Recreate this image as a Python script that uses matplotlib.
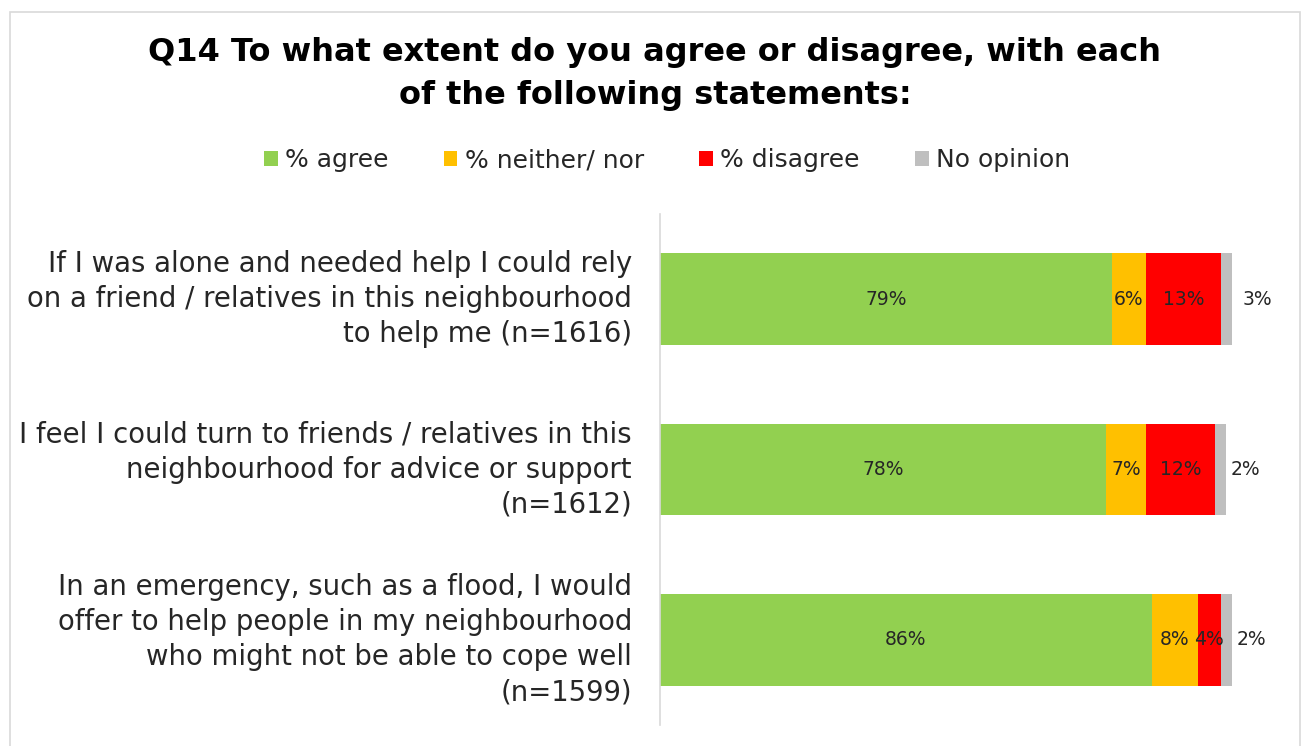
import matplotlib
matplotlib.use("Agg")
import matplotlib.pyplot as plt
from matplotlib.patches import Rectangle

plt.rcParams['font.family'] = ['DejaVu Sans']

title = "Q14 To what extent do you agree or disagree, with each\nof the following statements:"
statements = [
    "If I was alone and needed help I could rely\non a friend / relatives in this neighbourhood\nto help me (n=1616)",
    "I feel I could turn to friends / relatives in this\nneighbourhood for advice or support\n(n=1612)",
    "In an emergency, such as a flood, I would\noffer to help people in my neighbourhood\nwho might not be able to cope well\n(n=1599)",
]
series_names = ["% agree", "% neither/ nor", "% disagree", "No opinion"]
agree = [79, 78, 86]
neither = [6, 7, 8]
disagree = [13, 12, 4]
no_opinion = [3, 2, 2]

colors = ["#92D050", "#FFC000", "#FF0000", "#BFBFBF"]

fig = plt.figure(figsize=(13.07, 7.46), dpi=100)
fig.patches.append(Rectangle((10 / 1307, -0.05), 1290 / 1307, 1 - 12 / 746 + 0.05,
                             transform=fig.transFigure, fill=False,
                             edgecolor="#D9D9D9", linewidth=1.2))

ax = fig.add_axes([660 / 1307, 1 - 725 / 746, 572 / 1307, 511 / 746])

ypos = [0, 1, 2]
series = [agree, neither, disagree, no_opinion]
left = [0.0, 0.0, 0.0]
bar_h = 0.54
for s_idx, (vals, col, name) in enumerate(zip(series, colors, series_names)):
    ax.barh(ypos, vals, left=left, height=bar_h, color=col, label=name,
            edgecolor="none")
    for i, v in enumerate(vals):
        if s_idx < 3:
            x = left[i] + v / 2
            ha = "center"
        else:
            x = left[i] + v + 0.8
            ha = "left"
        ax.text(x, ypos[i], f"{v}%", ha=ha, va="center", fontsize=13.5,
                color="#262626", clip_on=False)
    left = [l + v for l, v in zip(left, vals)]

ax.set_xlim(0, 100)
ax.set_ylim(2.5, -0.5)
ax.set_xticks([])
ax.set_yticks([])
for side in ["top", "right", "bottom"]:
    ax.spines[side].set_visible(False)
ax.spines["left"].set_color("#D9D9D9")
ax.spines["left"].set_linewidth(1.2)

for i, txt in enumerate(statements):
    ax.text(-4.9, ypos[i], txt, ha="right", va="center",
            fontsize=19.8, color="#262626", linespacing=1.33, clip_on=False)

fig.text(655 / 1307, 1 - 74 / 746, title, ha="center", va="center",
         fontsize=23, fontweight="bold", color="black", linespacing=1.5)

fig.legend(loc="center", bbox_to_anchor=(667 / 1307, 1 - 160 / 746),
           ncol=4, frameon=False, fontsize=18, handlelength=0.55,
           handleheight=0.55, handletextpad=0.3, columnspacing=2.2,
           labelcolor="#262626")

fig.savefig("out.png", dpi=100)
